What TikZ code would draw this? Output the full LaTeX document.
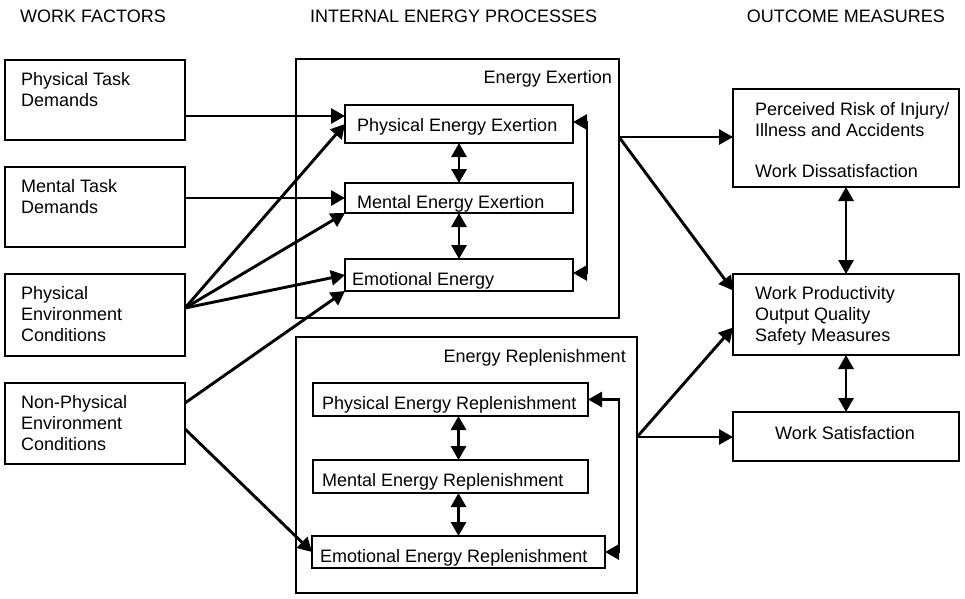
\documentclass[tikz,border=0pt]{standalone}
\usepackage{fontspec}
\setmainfont{Liberation Sans}
\usetikzlibrary{arrows.meta,calc}
\begin{document}
\begin{tikzpicture}[x=1pt,y=-1pt,
  box/.style={draw, line width=2.8pt, inner sep=0pt, outer sep=0pt},
  txt/.style={inner sep=0pt, anchor=base west, font=\fontsize{18}{21}\selectfont},
  tip/.tip={Triangle[length=14pt,width=15pt]},
  link/.style={line width=2.9pt, -tip},
  twoway/.style={line width=2.9pt, tip-tip},
  line join=miter]
\useasboundingbox (0,0) rectangle (965,598);

% column headings
\node[txt] (hwf) at (20,22) {WORK FACTORS};
\node[txt] (hiep) at (310,22) {INTERNAL ENERGY PROCESSES};
\node[txt, anchor=base east] (hom) at (945,22) {OUTCOME MEASURES};

% work factors
\node[box, minimum width=180, minimum height=80] (ptd) at (95,100) {};
\node[box, minimum width=180, minimum height=80] (mtd) at (95,207) {};
\node[box, minimum width=180, minimum height=82] (pec) at (95,315) {};
\node[box, minimum width=180, minimum height=81] (npec) at (95,423.5) {};

\node[txt] (ptdA) at ($(ptd.north west)+(16,25)$) {Physical Task};
\node[txt] (ptdB) at ($(ptd.north west)+(16,46)$) {Demands};
\node[txt] (mtdA) at ($(mtd.north west)+(16,25)$) {Mental Task};
\node[txt] (mtdB) at ($(mtd.north west)+(16,46)$) {Demands};
\node[txt] (pecA) at ($(pec.north west)+(16,25)$) {Physical};
\node[txt] (pecB) at ($(pec.north west)+(16,46)$) {Environment};
\node[txt] (pecC) at ($(pec.north west)+(16,67)$) {Conditions};
\node[txt] (npecA) at ($(npec.north west)+(16,25)$) {Non-Physical};
\node[txt] (npecB) at ($(npec.north west)+(16,46)$) {Environment};
\node[txt] (npecC) at ($(npec.north west)+(16,67)$) {Conditions};

% energy exertion
\node[box, minimum width=323, minimum height=259] (exert) at (457.5,188.5) {};
\node[txt, anchor=base east] (exertT) at ($(exert.north east)+(-7,24)$) {Energy Exertion};
\node[box, minimum width=228, minimum height=38] (pee) at (459,124) {};
\node[box, minimum width=228, minimum height=30] (mee) at (459,198) {};
\node[box, minimum width=228, minimum height=32] (eme) at (459,275) {};
\node[txt] (peeT) at ($(pee.west)+(12,7)$) {Physical Energy Exertion};
\node[txt] (meeT) at ($(mee.west)+(12,10)$) {Mental Energy Exertion};
\node[txt] (emeT) at ($(eme.west)+(7,10)$) {Emotional Energy};

% energy replenishment
\node[box, minimum width=341, minimum height=256] (repl) at (466.5,465) {};
\node[txt, anchor=base east] (replT) at ($(repl.north east)+(-11,25)$) {Energy Replenishment};
\node[box, minimum width=275, minimum height=33] (per) at (450.5,399.5) {};
\node[box, minimum width=275, minimum height=33] (mer) at (450.5,476.5) {};
\node[box, minimum width=293, minimum height=32] (emr) at (458.5,552) {};
\node[txt] (perT) at ($(per.west)+(9,9.5)$) {Physical Energy Replenishment};
\node[txt] (merT) at ($(mer.west)+(9,9.5)$) {Mental Energy Replenishment};
\node[txt] (emrT) at ($(emr.west)+(8,10)$) {Emotional Energy Replenishment};

% outcome measures
\node[box, minimum width=226, minimum height=98] (risk) at (846,138) {};
\node[box, minimum width=226, minimum height=81] (prod) at (846,314.5) {};
\node[box, minimum width=226, minimum height=49] (sat) at (846,436.5) {};
\node[txt] (riskA) at ($(risk.north west)+(22,26)$) {Perceived Risk of Injury/};
\node[txt] (riskB) at ($(risk.north west)+(22,47)$) {Illness and Accidents};
\node[txt] (riskC) at ($(risk.north west)+(22,88)$) {Work Dissatisfaction};
\node[txt] (prodA) at ($(prod.north west)+(22,25)$) {Work Productivity};
\node[txt] (prodB) at ($(prod.north west)+(22,46)$) {Output Quality};
\node[txt] (prodC) at ($(prod.north west)+(22,67)$) {Safety Measures};
\node[txt, anchor=base] (satT) at ($(sat.center)+(-1,3)$) {Work Satisfaction};

% branching points
\coordinate (ptdO) at ($(ptd.east)+(0,16)$);
\coordinate (pecO) at ($(pec.east)+(0,-7)$);
\coordinate (npecU) at ($(npec.east)+(0,-20.5)$);
\coordinate (npecL) at ($(npec.east)+(0,5.5)$);
\coordinate (exO) at ($(exert.east)+(0,-51.5)$);
\coordinate (reO) at ($(repl.east)+(0,-28)$);

% work factors -> exertion / replenishment
\draw[link] (ptdO) -- (ptdO -| pee.west);
\draw[link] (mtd.east |- mee.west) -- (mee.west);
\draw[link] (pecO) -- (pee.west);
\draw[link] (pecO) -- (mee.south west);
\draw[link] (pecO) -- (eme.west);
\draw[link] (npecU) -- (eme.south west);
\draw[link] (npecL) -- (emr.west);

% links inside the exertion block
\draw[twoway] (pee.south) -- (mee.north);
\draw[twoway] (mee.south) -- (eme.north);
\draw[twoway] ($(pee.east)+(0,-2)$) -- ++(14,0) |- ($(eme.east)+(0,-2)$);

% links inside the replenishment block
\draw[twoway] (per.south -| emr.north) -- (mer.north -| emr.north);
\draw[twoway] (mer.south -| emr.north) -- (emr.north);
\draw[twoway] (per.east) -- ++(31,0) |- (emr.east);

% processes -> outcomes
\draw[link] (exO) -- (exO -| risk.west);
\draw[link] (exO) -- ($(prod.west)+(0,-24)$);
\draw[link] (reO) -- ($(prod.west)+(0,13)$);
\draw[link] (reO) -- (reO -| sat.west);

% links between outcomes
\draw[twoway] (risk.south) -- (prod.north);
\draw[twoway] (prod.south) -- (sat.north);
\end{tikzpicture}
\end{document}
